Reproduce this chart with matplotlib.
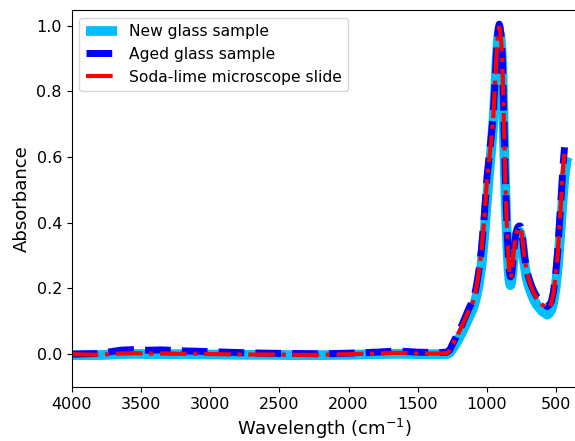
import matplotlib
matplotlib.use("Agg")
import matplotlib.pyplot as plt

wavenumber = [4000, 3800, 3650, 3550, 3450, 3350, 3200, 3100, 2950, 2800, 2600, 2400,
              2200, 2000, 1800, 1650, 1500, 1350, 1290, 1270, 1250, 1220, 1190, 1160,
              1130, 1100, 1080, 1060, 1040, 1020, 1000, 985, 970, 955, 940, 930, 920,
              912, 905, 897, 890, 882, 875, 868, 860, 852, 845, 838, 831, 824, 816, 808,
              800, 790, 780, 770, 760, 750, 740, 730, 715, 700, 680, 660, 640, 620, 600,
              580, 565, 550, 535, 520, 505, 490, 475, 460, 450, 440]

aged = [0.0, 0.002, 0.012, 0.014, 0.012, 0.013, 0.010, 0.009, 0.007, 0.005, 0.003, 0.002,
        0.001, 0.003, 0.006, 0.010, 0.006, 0.005, 0.006, 0.012, 0.03, 0.055, 0.08, 0.11,
        0.14, 0.165, 0.2, 0.25, 0.32, 0.42, 0.54, 0.6, 0.66, 0.73, 0.85, 0.93, 0.99,
        1.005, 0.995, 0.96, 0.91, 0.78, 0.66, 0.54, 0.44, 0.35, 0.29, 0.25, 0.235, 0.24,
        0.27, 0.31, 0.34, 0.37, 0.385, 0.39, 0.39, 0.375, 0.34, 0.3, 0.26, 0.235, 0.21,
        0.19, 0.175, 0.165, 0.155, 0.15, 0.145, 0.15, 0.16, 0.19, 0.24, 0.31, 0.41, 0.51,
        0.58, 0.63]

slide = [0.0, -0.002, 0.002, 0.003, 0.002, 0.002, 0.001, 0.001, 0.0, -0.001, -0.001, -0.002,
         -0.002, 0.0, 0.002, 0.004, 0.002, 0.002, 0.003, 0.010, 0.028, 0.052, 0.078, 0.105,
         0.135, 0.16, 0.195, 0.245, 0.315, 0.41, 0.53, 0.59, 0.65, 0.72, 0.84, 0.92, 0.985,
         0.995, 0.985, 0.95, 0.9, 0.77, 0.65, 0.53, 0.43, 0.345, 0.285, 0.245, 0.232, 0.238,
         0.268, 0.305, 0.335, 0.365, 0.38, 0.385, 0.385, 0.37, 0.335, 0.295, 0.255, 0.23, 0.205,
         0.185, 0.17, 0.16, 0.15, 0.145, 0.14, 0.145, 0.155, 0.185, 0.235, 0.3, 0.4, 0.5,
         0.57, 0.61]

wavenumber_new = [4000, 3800, 3650, 3550, 3450, 3350, 3200, 3100, 2950, 2800, 2600, 2400,
                  2200, 2000, 1800, 1650, 1500, 1350, 1290, 1270, 1250, 1220, 1190, 1160,
                  1130, 1100, 1080, 1060, 1040, 1020, 1000, 985, 970, 955, 940, 930, 920,
                  912, 905, 897, 890, 882, 875, 868, 860, 852, 845, 838, 831, 824, 816, 808,
                  800, 790, 780, 770, 760, 750, 740, 730, 715, 700, 680, 660, 640, 620, 600,
                  580, 565, 550, 535, 520, 505, 490, 475, 460, 450, 440, 425, 415]

new = [-0.003, -0.003, 0.0, 0.001, 0.0, 0.0, 0.0, -0.001, -0.001, -0.002, -0.002, -0.003,
       -0.003, -0.002, 0.0, 0.001, 0.0, 0.0, 0.0, 0.004, 0.015, 0.035, 0.058, 0.085,
       0.112, 0.14, 0.17, 0.21, 0.27, 0.36, 0.47, 0.55, 0.62, 0.7, 0.81, 0.9, 0.965,
       0.98, 0.975, 0.94, 0.88, 0.75, 0.62, 0.5, 0.4, 0.32, 0.26, 0.225, 0.21, 0.22,
       0.25, 0.29, 0.325, 0.355, 0.37, 0.375, 0.37, 0.35, 0.315, 0.275, 0.235, 0.21, 0.185,
       0.165, 0.15, 0.14, 0.13, 0.125, 0.12, 0.125, 0.135, 0.16, 0.2, 0.26, 0.34, 0.43,
       0.49, 0.54, 0.59, 0.6]

labels = ["New glass sample", "Aged glass sample", "Soda-lime microscope slide"]

fig = plt.figure(figsize=(5.75, 4.41), dpi=100)
W, H = 575, 441
ax = fig.add_axes([71.7 / W, 1 - 387 / H, (577 - 71.7) / W, (387 - 10) / H])

ax.plot(wavenumber_new, new, color="#00BFFF", lw=7, solid_capstyle="butt",
        solid_joinstyle="round", label=labels[0])
ax.plot(wavenumber, aged, color="#0000FF", lw=5, ls="--", label=labels[1])
ax.plot(wavenumber, slide, color="#FF0000", lw=3, ls="-.", label=labels[2])

ax.set_xlim(4000, 350)
ax.set_ylim(-0.1, 1.048)
ax.set_xticks([4000, 3500, 3000, 2500, 2000, 1500, 1000, 500])
ax.set_yticks([0.0, 0.2, 0.4, 0.6, 0.8, 1.0])
ax.tick_params(labelsize=11.5)
ax.set_xlabel("Wavelength (cm$^{-1}$)", fontsize=13)
ax.set_ylabel("Absorbance", fontsize=13)
ax.legend(loc="upper left", fontsize=11.2, handlelength=2.0)

fig.savefig("out.png", dpi=100)
